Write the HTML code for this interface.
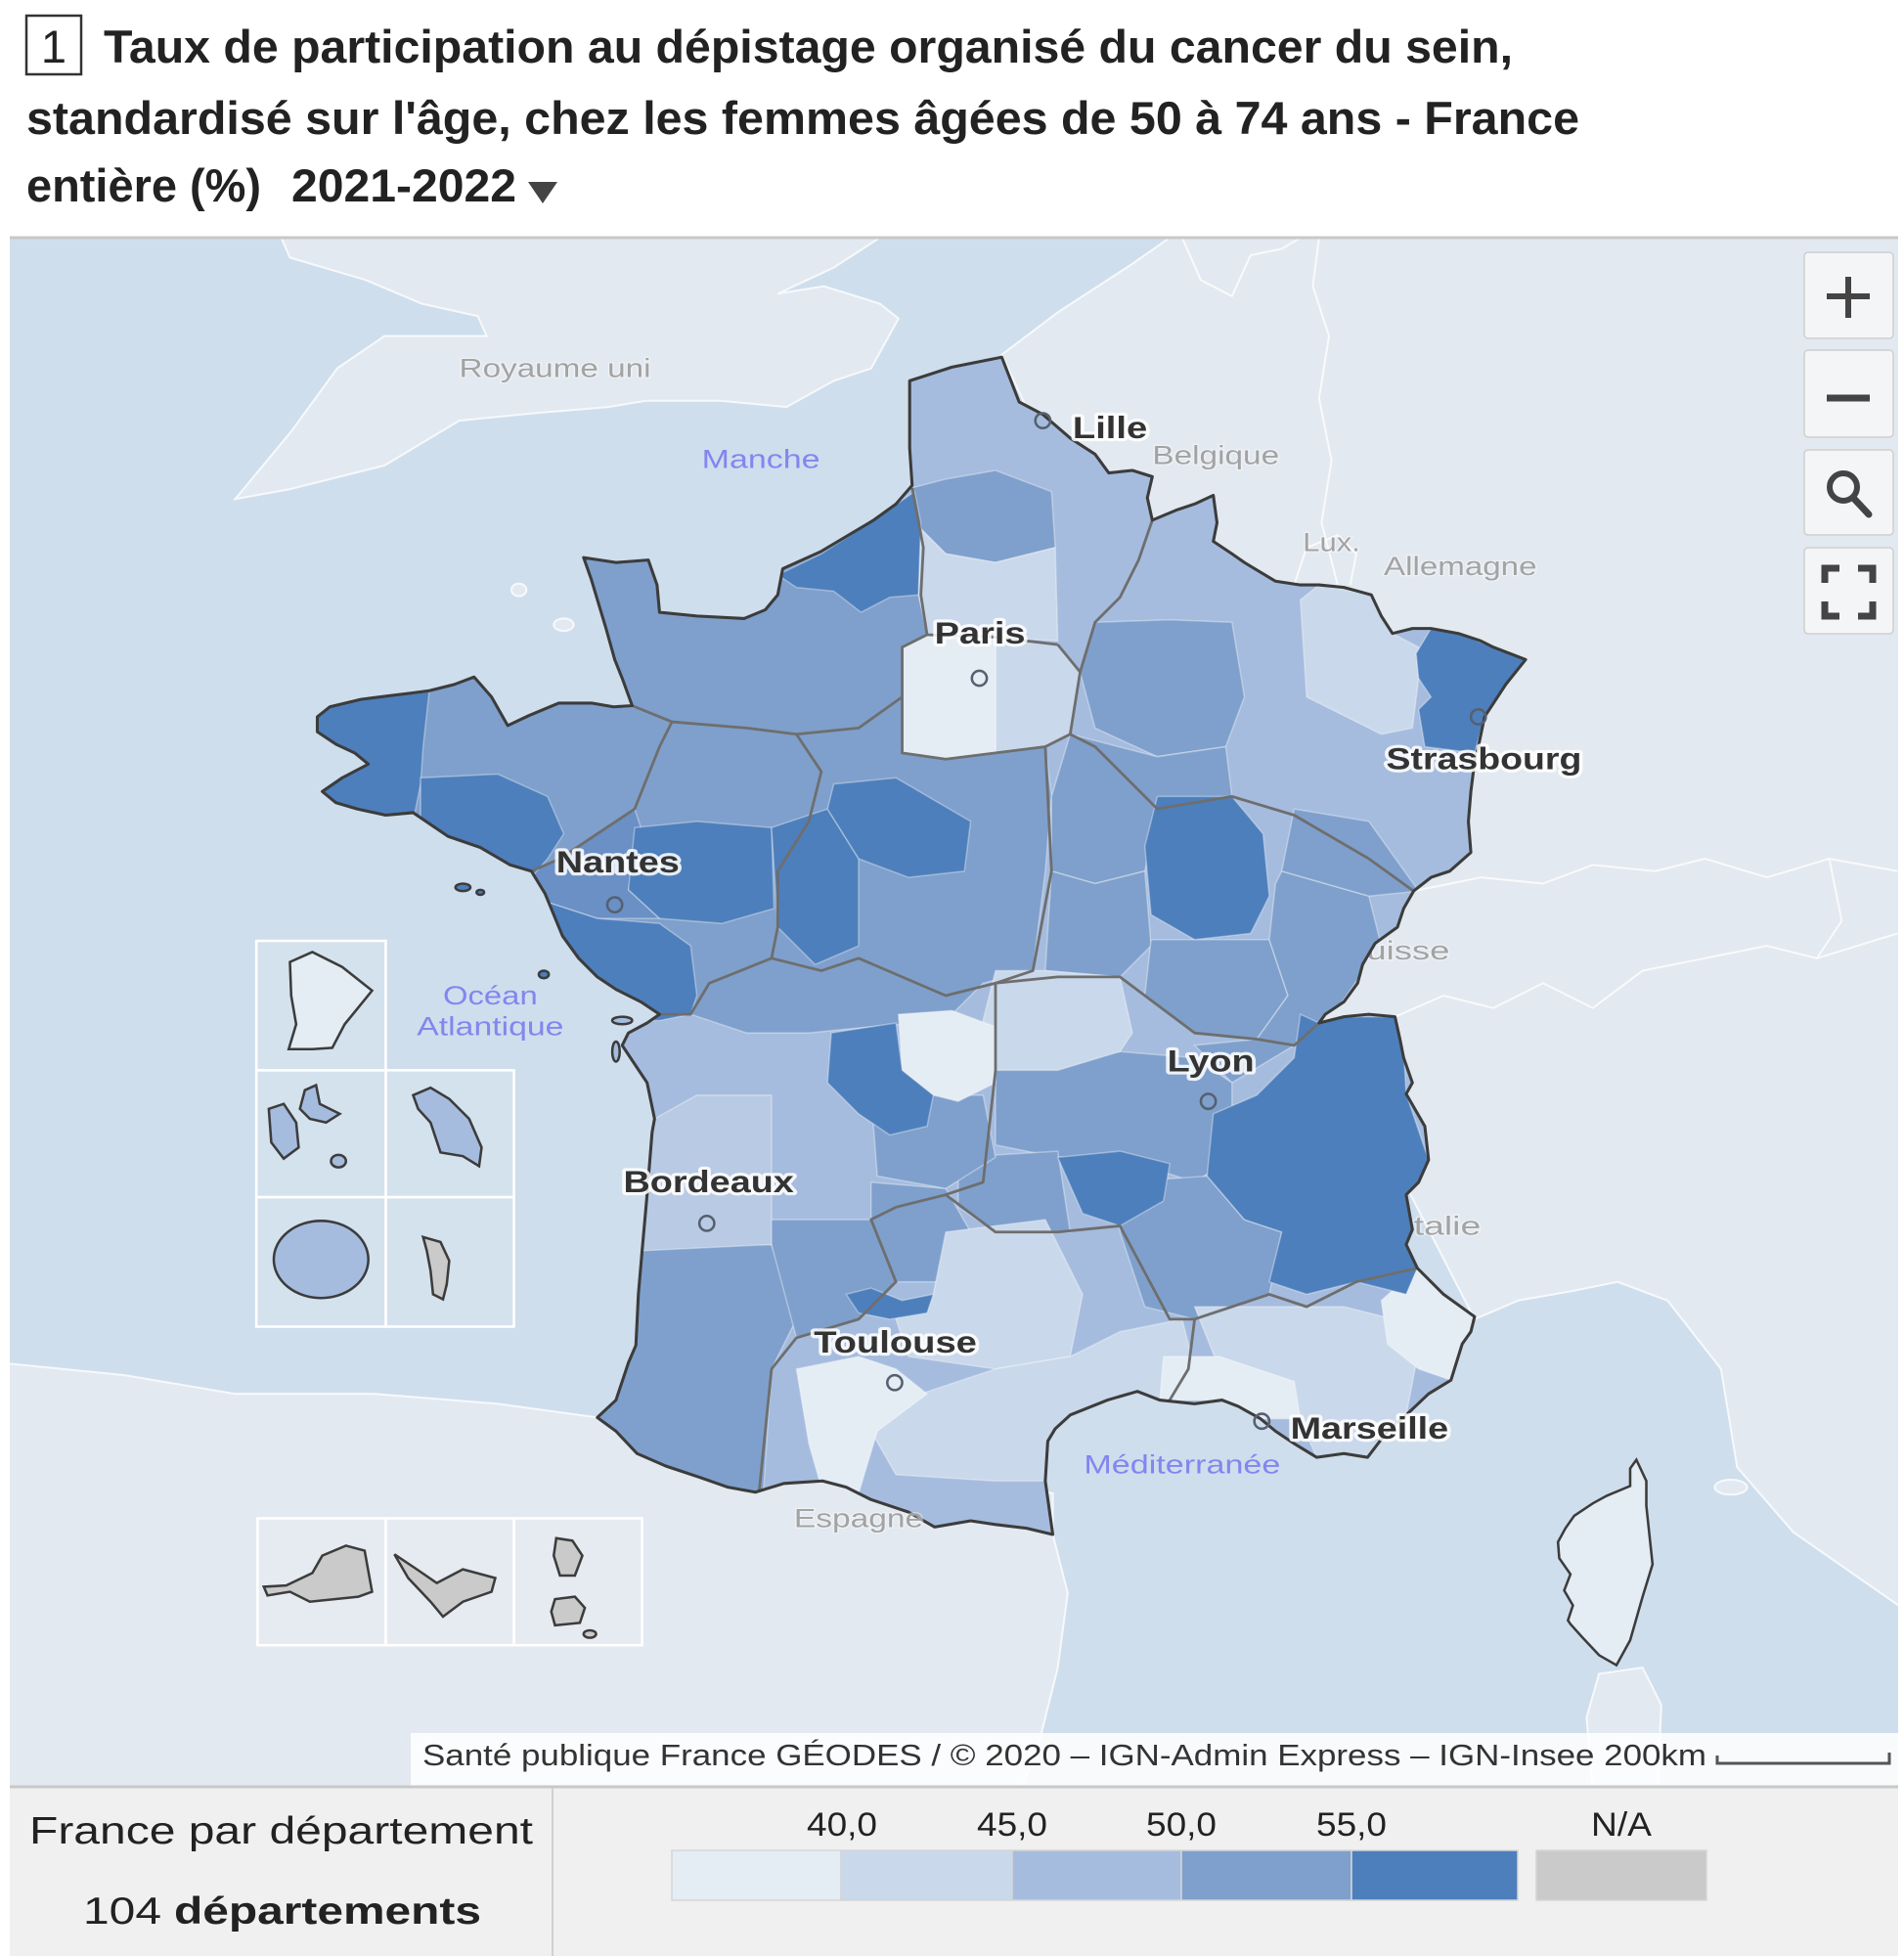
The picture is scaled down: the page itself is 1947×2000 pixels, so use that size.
<!DOCTYPE html>
<html><head><meta charset="utf-8"><style>
html,body{margin:0;padding:0;background:#fff;}
svg{display:block;}
text{font-family:"Liberation Sans",Arial,sans-serif;}
.city{font-weight:bold;font-size:25px;fill:#333;stroke:#fff;stroke-width:5;stroke-opacity:.85;paint-order:stroke;stroke-linejoin:round;}
.ctry{font-size:21px;fill:#a3a3a3;stroke:#fff;stroke-width:2;stroke-opacity:.4;paint-order:stroke;}
.sea{font-size:21px;fill:#8585ef;}
.p{stroke:#fff;stroke-opacity:.35;stroke-width:1.2;}
.c1{fill:#e4ecf4}.c2{fill:#c9d8ea}.c3{fill:#a5bcde}.c4{fill:#7fa0cc}.c5{fill:#4d7fbc}.na{fill:#cacaca}
.reg{fill:none;stroke:#6e6e6e;stroke-width:2.2;stroke-linejoin:round;}
.cb{fill:none;stroke:#fff;stroke-opacity:.75;stroke-width:1.6;stroke-linejoin:round;}
.land{fill:#e3e9f0;stroke:#f6f9fc;stroke-width:1.6;}
.isl{stroke:#3c3c3c;stroke-width:2;}
.box{fill:#fff;fill-opacity:.12;stroke:#fff;stroke-width:2;}
</style></head><body>
<svg width="1947" height="2000" viewBox="0 0 1947 2000" xmlns="http://www.w3.org/2000/svg">
<defs>
<path id="frp" d="M805,287 L812,305 L819,323 L838,333 L860,352 L880,365 L891,380 L910,378 L926,383 L922,400 L926,418 L945,410 L960,405 L975,398 L978,420 L975,435 L990,445 L1000,452 L1025,467 L1045,470 L1060,470 L1080,472 L1102,478 L1110,495 L1119,509 L1135,505 L1150,505 L1172,509 L1190,515 L1200,520 L1226,530 L1210,550 L1193,576 L1188,600 L1185,612 L1182,636 L1180,660 L1182,685 L1165,700 L1150,705 L1136,716 L1128,730 L1123,745 L1105,758 L1095,775 L1091,790 L1080,805 L1065,815 L1060,822 L1080,817 L1100,815 L1121,817 L1125,835 L1128,850 L1135,870 L1130,879 L1145,905 L1148,932 L1140,950 L1130,960 L1135,988 L1130,1000 L1139,1019 L1150,1030 L1160,1040 L1185,1058 L1182,1070 L1175,1080 L1166,1109 L1148,1120 L1130,1137 L1115,1150 L1099,1171 L1080,1168 L1058,1171 L1040,1160 L1025,1150 L1013,1140 L995,1130 L982,1125 L960,1128 L932,1125 L914,1118 L890,1125 L860,1137 L848,1148 L842,1158 L840,1190 L846,1233 L825,1228 L800,1225 L780,1222 L751,1227 L730,1215 L700,1205 L680,1195 L661,1190 L630,1192 L607,1199 L585,1195 L562,1187 L535,1178 L512,1168 L495,1150 L480,1139 L495,1125 L500,1110 L505,1095 L511,1081 L513,1040 L516,1005 L520,960 L524,910 L526,899 L520,870 L510,855 L500,840 L505,830 L520,822 L530,815 L515,805 L495,795 L480,785 L465,770 L452,752 L445,735 L438,718 L427,700 L410,695 L386,681 L360,672 L332,653 L310,655 L287,650 L270,645 L259,636 L275,625 L296,614 L285,605 L270,598 L255,588 L255,576 L265,568 L290,562 L313,559 L330,557 L345,555 L365,550 L381,544 L395,560 L408,583 L425,575 L449,565 L476,565 L493,568 L508,567 L500,545 L494,530 L487,505 L481,485 L475,465 L469,448 L495,452 L521,450 L528,470 L530,492 L560,495 L598,497 L615,490 L625,478 L629,457 L660,443 L702,418 L720,405 L733,390 L731,360 L731,330 L731,306 L765,295 Z"/>
<clipPath id="frclip"><use href="#frp"/></clipPath>
<clipPath id="mapclip"><rect x="10" y="243" width="1931" height="1583"/></clipPath>
</defs>

<rect x="0" y="0" width="1947" height="2000" fill="#fff"/>

<!-- Title -->
<rect x="27" y="16" width="56" height="60" fill="none" stroke="#333" stroke-width="2.5"/>
<text x="55" y="64" font-size="47" text-anchor="middle" fill="#222">1</text>
<text x="106" y="64" font-size="47" font-weight="bold" fill="#222" textLength="1441" lengthAdjust="spacingAndGlyphs">Taux de participation au dépistage organisé du cancer du sein,</text>
<text x="27" y="137" font-size="47" font-weight="bold" fill="#222" textLength="1588" lengthAdjust="spacingAndGlyphs">standardisé sur l'âge, chez les femmes âgées de 50 à 74 ans - France</text>
<text x="27" y="206" font-size="47" font-weight="bold" fill="#222" textLength="240" lengthAdjust="spacingAndGlyphs">entière (%)</text>
<text x="298" y="206" font-size="47" font-weight="bold" fill="#222" textLength="230" lengthAdjust="spacingAndGlyphs">2021-2022</text>
<polygon points="540,186 570,186 555,208" fill="#444"/>

<!-- Map -->
<g clip-path="url(#mapclip)">
<rect x="10" y="243" width="1931" height="1583" fill="#cfdeec"/>
<g transform="scale(1.2725)">
  <!-- land -->
  <path class="land" d="M226,191 L233,207 L294,225 L339,244 L384,254 L391,270 L309,270 L271,296 L233,348 L189,401 L233,393 L309,374 L369,338 L429,332 L489,327 L519,322 L579,322 L632,327 L670,306 L700,296 L722,256 L707,244 L662,230 L625,236 L670,215 L707,191 Z"/>
  <path class="land" d="M940,191 L1540,191 L1540,1300 L1441,1231 L1396,1179 L1383,1100 L1340,1045 L1300,1030 L1260,1038 L1220,1045 L1185,1060 L1000,700 L805,285 L850,251 L910,212 Z"/>
  <path class="land" d="M0,1095 L100,1105 L189,1120 L300,1120 L400,1128 L480,1139 L600,1150 L846,1200 L846,1233 L858,1280 L850,1340 L835,1400 L820,1440 L0,1440 Z"/>
  <path class="land" d="M1285,1345 L1320,1340 L1335,1370 L1332,1440 L1280,1440 L1275,1380 Z"/>
  <ellipse class="land" cx="1391" cy="1195" rx="13" ry="6"/>
  <ellipse class="land" cx="417" cy="474" rx="6" ry="5"/>
  <ellipse class="land" cx="453" cy="502" rx="8" ry="5"/>
  <!-- country borders -->
  <path class="cb" d="M1060,191 L1055,230 L1068,270 L1060,320 L1070,370 L1062,420 L1075,470"/>
  <path class="cb" d="M1040,470 L1050,440 L1075,430 L1090,445 L1085,470"/>
  <path class="cb" d="M950,191 L965,225 L990,238 L1005,205 L1030,200 L1045,191"/>
  <path class="cb" d="M1136,716 L1190,705 L1240,710 L1280,695 L1330,700 L1370,690 L1420,705 L1470,690 L1525,700"/>
  <path class="cb" d="M1121,817 L1160,800 L1200,810 L1240,790 L1280,810 L1320,780 L1370,770 L1420,760 L1460,770 L1525,750"/>
  <path class="cb" d="M1470,690 L1480,740 L1460,770"/>
  <!-- country / sea labels -->
  <text class="ctry" x="369" y="303" textLength="154" lengthAdjust="spacingAndGlyphs">Royaume uni</text>
  <text class="ctry" x="926" y="373" textLength="102" lengthAdjust="spacingAndGlyphs">Belgique</text>
  <text class="ctry" x="1047" y="443" textLength="46" lengthAdjust="spacingAndGlyphs">Lux.</text>
  <text class="ctry" x="1112" y="462" textLength="123" lengthAdjust="spacingAndGlyphs">Allemagne</text>
  <text class="ctry" x="1079" y="771" textLength="86" lengthAdjust="spacingAndGlyphs">Suisse</text>
  <text class="ctry" x="1128" y="992" textLength="62" lengthAdjust="spacingAndGlyphs">Italie</text>
  <text class="sea" x="564" y="376" textLength="95" lengthAdjust="spacingAndGlyphs">Manche</text>
  <text class="sea" x="356" y="807" textLength="76" lengthAdjust="spacingAndGlyphs">Océan</text>
  <text class="sea" x="335" y="832" textLength="118" lengthAdjust="spacingAndGlyphs">Atlantique</text>
  <text class="sea" x="871" y="1184" textLength="158" lengthAdjust="spacingAndGlyphs">Méditerranée</text>

  <!-- France -->
  <use href="#frp" class="c3"/>
  <g clip-path="url(#frclip)">
    <!-- c4 -->
    <polygon class="p c4" points="200,430 745,430 745,510 725,520 725,605 760,610 800,605 840,600 845,640 840,700 830,780 790,790 760,820 700,825 650,830 600,830 555,815 530,815 400,815 200,700"/>
    <polygon class="p c4" points="733,392 760,385 800,378 845,395 848,440 800,452 760,445 740,425"/>
    <polygon class="p c4" points="880,500 940,498 990,500 1000,560 985,600 930,608 880,585 868,540"/>
    <polygon class="p c4" points="860,590 930,608 985,600 990,640 930,650 920,700 880,710 845,700 845,640"/>
    <polygon class="p c4" points="845,700 880,710 920,700 925,760 900,785 840,780"/>
    <polygon class="p c4" points="925,755 1020,755 1035,800 1010,835 960,830 920,800"/>
    <polygon class="p c4" points="1030,700 1100,720 1110,760 1075,810 1060,822 1040,840 990,870 960,840 1010,835 1035,800 1020,755 1025,710"/>
    <polygon class="p c4" points="1040,650 1100,660 1140,716 1100,720 1030,700"/>
    <polygon class="p c4" points="800,860 900,845 960,850 990,870 990,930 960,950 900,930 850,930 800,920"/>
    <polygon class="p c4" points="770,930 850,925 860,990 800,990 770,970"/>
    <polygon class="p c4" points="700,950 760,955 780,990 760,1030 720,1030 700,980"/>
    <polygon class="p c4" points="700,880 790,880 800,930 760,955 705,945"/>
    <polygon class="p c4" points="400,1000 620,1000 640,1060 620,1100 610,1250 400,1250"/>
    <polygon class="p c4" points="600,980 700,980 720,1030 690,1060 640,1075 620,1000"/>
    <polygon class="p c4" points="900,950 970,945 1000,980 1030,990 1020,1040 960,1060 920,1050 900,990"/>
    <!-- c2 -->
    <polygon class="p c2" points="740,425 760,445 800,452 848,440 850,515 800,512 745,510 738,478"/>
    <polygon class="p c2" points="800,512 850,518 868,540 860,590 840,600 800,605"/>
    <polygon class="p c2" points="1045,482 1060,470 1102,478 1119,509 1140,520 1140,545 1135,585 1110,590 1080,575 1050,560"/>
    <polygon class="p c2" points="800,780 840,780 900,785 910,830 900,845 850,860 800,860 790,820"/>
    <polygon class="p" fill="#b8cae4" points="526,899 560,880 620,880 620,1000 516,1005 524,910"/>
    <polygon class="p c2" points="760,990 840,980 870,1040 860,1090 800,1100 730,1090 720,1060 750,1040"/>
    <polygon class="p c2" points="800,1100 860,1090 900,1070 950,1060 960,1100 940,1130 900,1130 860,1150 842,1160 840,1190 800,1190 720,1185 700,1150 740,1120"/>
    <polygon class="p c2" points="960,1050 1030,1050 1080,1050 1120,1060 1140,1085 1130,1137 1099,1171 1058,1171 1040,1130 980,1100"/>
    <!-- c1 -->
    <polygon class="p c1" points="725,520 745,510 800,512 800,605 760,610 725,605"/>
    <polygon class="p c1" points="722,815 765,812 800,825 800,870 770,885 750,880 725,860"/>
    <polygon class="p c1" points="640,1100 690,1090 720,1100 745,1120 705,1150 690,1200 660,1195 650,1160"/>
    <polygon class="p c1" points="935,1090 980,1090 1040,1110 1045,1140 1013,1140 982,1125 932,1125"/>
    <polygon class="p c1" points="1110,1045 1139,1019 1160,1040 1185,1058 1180,1075 1166,1109 1140,1100 1115,1080"/>
    <!-- c5 and intermediate -->
    <polygon class="p" fill="#6a90c5" points="427,700 450,690 480,670 510,650 515,665 505,715 530,738 480,738 440,725"/>
    <polygon class="p c5" points="625,462 660,445 702,418 735,395 740,420 738,478 715,480 692,492 670,475 640,472"/>
    <polygon class="p c5" points="200,560 313,559 345,555 340,600 338,630 332,660 200,660"/>
    <polygon class="p c5" points="338,625 400,622 440,640 453,670 440,690 427,705 386,690 338,665"/>
    <polygon class="p c5" points="510,665 560,660 620,665 622,730 580,742 530,738 505,715"/>
    <polygon class="p c5" points="440,725 480,738 530,742 555,760 560,800 555,815 530,820 400,820 400,730"/>
    <polygon class="p c5" points="620,665 665,650 690,690 690,760 655,775 625,745"/>
    <polygon class="p c5" points="670,630 720,625 780,660 775,700 730,705 690,690 665,650"/>
    <polygon class="p c5" points="930,640 990,640 1015,670 1020,720 1005,750 960,755 925,735 920,680"/>
    <polygon class="p c5" points="668,830 720,822 725,860 750,880 745,905 715,912 690,895 665,870"/>
    <polygon class="p c5" points="850,930 900,925 940,935 935,965 900,985 870,975"/>
    <polygon class="p c5" points="1045,815 1060,822 1080,817 1121,817 1128,845 1130,879 1148,932 1140,960 1135,988 1139,1019 1130,1040 1090,1030 1050,1040 1020,1030 1030,990 1000,980 970,945 975,895 1010,880 1040,850"/>
    <polygon class="p c5" points="1138,525 1150,505 1172,509 1200,520 1230,525 1193,576 1185,605 1145,600 1140,570 1150,560 1140,545"/>
    <polygon class="p c5" points="680,1040 700,1035 725,1045 750,1040 745,1055 715,1060 690,1055"/>
    <!-- region borders -->
    <path class="reg" d="M733,392 L742,440 L740,478 L745,510 L800,512 L850,518"/>
    <path class="reg" d="M926,418 L915,450 L900,480 L880,500 L868,540 L860,590 L840,600"/>
    <path class="reg" d="M850,518 L868,540"/>
    <path class="reg" d="M745,510 L725,520 L725,605 L760,610 L800,605 L840,600"/>
    <path class="reg" d="M860,590 L880,600 L930,650 L990,640 L1040,655 L1100,690 L1136,716"/>
    <path class="reg" d="M508,567 L540,580 L600,585 L640,590 L690,585 L725,560"/>
    <path class="reg" d="M427,700 L450,690 L480,670 L510,650 L530,600 L540,580"/>
    <path class="reg" d="M640,590 L660,620 L650,660 L625,700 L625,745 L620,770"/>
    <path class="reg" d="M530,815 L555,815 L570,790 L620,770 L660,780 L690,770 L760,800 L800,790"/>
    <path class="reg" d="M840,600 L845,700 L830,780 L800,790 L800,860 L790,950 L760,960"/>
    <path class="reg" d="M800,790 L850,785 L900,785 L960,830 L1010,835 L1040,840 L1060,822"/>
    <path class="reg" d="M760,960 L720,970 L700,980 L720,1030 L690,1060 L640,1075 L620,1100 L610,1199"/>
    <path class="reg" d="M760,960 L800,990 L850,990 L900,985 L940,1060 L960,1060 L1020,1040 L1050,1050 L1090,1030 L1139,1019"/>
    <path class="reg" d="M960,1060 L955,1100 L940,1125"/>
  </g>
  <use href="#frp" fill="none" stroke="#3c3c3c" stroke-width="2.4" stroke-linejoin="round"/>
  <!-- small Atlantic islands -->
  <ellipse cx="372" cy="713" rx="6" ry="3" class="c5 isl"/>
  <ellipse cx="386" cy="717" rx="3" ry="2" class="c5 isl"/>
  <ellipse cx="437" cy="783" rx="4" ry="3" class="c5 isl"/>
  <ellipse cx="500" cy="820" rx="8" ry="3" class="c3 isl"/>
  <ellipse cx="495" cy="845" rx="3" ry="8" class="c3 isl"/>

  <!-- Corsica -->
  <path class="c1 isl" d="M1315,1173 L1323,1190 L1323,1210 L1328,1257 L1320,1283 L1310,1318 L1299,1338 L1285,1330 L1271,1315 L1262,1305 L1260,1302 L1264,1290 L1257,1278 L1262,1265 L1253,1252 L1252,1239 L1258,1228 L1265,1218 L1280,1208 L1291,1202 L1310,1194 L1310,1180 Z"/>

  <!-- Insets -->
  <rect class="box" x="206" y="756" width="104" height="104"/>
  <rect class="box" x="206" y="860" width="104" height="102"/>
  <rect class="box" x="310" y="860" width="103" height="102"/>
  <rect class="box" x="206" y="962" width="104" height="104"/>
  <rect class="box" x="310" y="962" width="103" height="104"/>
  <rect class="box" x="207" y="1220" width="103" height="102"/>
  <rect class="box" x="310" y="1220" width="103" height="102"/>
  <rect class="box" x="413" y="1220" width="103" height="102"/>
  <path class="c1 isl" d="M233,773 L251,765 L275,777 L299,796 L277,823 L267,842 L251,843 L232,843 L238,823 L234,800 Z"/>
  <path class="c3 isl" d="M216,891 L228,887 L238,902 L240,922 L228,931 L218,918 Z"/>
  <path class="c3 isl" d="M241,891 L245,876 L254,872 L257,887 L273,895 L262,902 L249,899 Z"/>
  <ellipse class="c3 isl" cx="272" cy="933" rx="6" ry="5"/>
  <path class="c3 isl" d="M332,880 L346,874 L361,883 L377,899 L387,922 L385,937 L372,929 L354,926 L346,902 L336,891 Z"/>
  <ellipse class="c3 isl" cx="258" cy="1012" rx="38" ry="31"/>
  <path class="na isl" d="M340,994 L354,998 L361,1013 L359,1032 L356,1044 L348,1040 L346,1021 L343,1005 Z"/>
  <path class="na isl" d="M212,1275 L230,1274 L251,1264 L259,1250 L278,1242 L293,1246 L299,1279 L288,1283 L249,1287 L233,1279 L215,1282 Z"/>
  <path class="na isl" d="M317,1249 L335,1261 L351,1272 L372,1261 L398,1268 L395,1279 L372,1287 L356,1299 L346,1287 L328,1268 Z"/>
  <path class="na isl" d="M447,1236 L460,1238 L468,1250 L462,1266 L450,1266 L445,1250 Z"/>
  <path class="na isl" d="M446,1285 L462,1283 L470,1292 L466,1304 L446,1306 L443,1295 Z"/>
  <ellipse class="na isl" cx="474" cy="1313" rx="5" ry="3"/>

  <!-- city circles -->
  <g fill="none" stroke="#556070" stroke-width="2">
    <circle cx="838" cy="338" r="6"/><circle cx="787" cy="545" r="6"/>
    <circle cx="1188" cy="576" r="6"/><circle cx="494" cy="727" r="6"/>
    <circle cx="971" cy="885" r="6"/><circle cx="568" cy="983" r="6"/>
    <circle cx="719" cy="1111" r="6"/><circle cx="1014" cy="1142" r="6"/>
  </g>
  <text class="ctry" x="638" y="1227" textLength="104" lengthAdjust="spacingAndGlyphs">Espagne</text>
  <text class="city" x="862" y="352" textLength="60" lengthAdjust="spacingAndGlyphs">Lille</text>
  <text class="city" x="751" y="517" textLength="73" lengthAdjust="spacingAndGlyphs">Paris</text>
  <text class="city" x="1114" y="618" textLength="157" lengthAdjust="spacingAndGlyphs">Strasbourg</text>
  <text class="city" x="447" y="701" textLength="99" lengthAdjust="spacingAndGlyphs">Nantes</text>
  <text class="city" x="938" y="861" textLength="70" lengthAdjust="spacingAndGlyphs">Lyon</text>
  <text class="city" x="501" y="958" textLength="137" lengthAdjust="spacingAndGlyphs">Bordeaux</text>
  <text class="city" x="654" y="1087" textLength="131" lengthAdjust="spacingAndGlyphs">Toulouse</text>
  <text class="city" x="1037" y="1156" textLength="127" lengthAdjust="spacingAndGlyphs">Marseille</text>
</g>

<!-- attribution -->
<rect x="420" y="1772" width="1521" height="54" fill="#fff" fill-opacity=".85"/>
<text x="432" y="1805" font-size="31" fill="#333" textLength="1313" lengthAdjust="spacingAndGlyphs">Santé publique France GÉODES / © 2020 – IGN-Admin Express – IGN-Insee 200km</text>
<path d="M1756,1795 V1803 H1932 V1792" fill="none" stroke="#555" stroke-width="3"/>

<!-- controls -->
<g fill="#f4f5f7" stroke="#cfcfcf" stroke-width="1.5">
  <rect x="1845" y="258" width="91" height="88" rx="4"/>
  <rect x="1845" y="358" width="91" height="89" rx="4"/>
  <rect x="1845" y="460" width="91" height="87" rx="4"/>
  <rect x="1845" y="560" width="91" height="88" rx="4"/>
</g>
<g stroke="#444" fill="none">
  <path d="M1868,303 H1912 M1890,283 V325" stroke-width="6"/>
  <path d="M1868,407 H1912" stroke-width="7"/>
  <circle cx="1885" cy="498" r="14" stroke-width="6"/>
  <path d="M1896,510 L1911,526" stroke-width="7" stroke-linecap="round"/>
  <path d="M1866,596 V581 H1881 M1900,581 H1915 V596 M1915,615 V630 H1900 M1881,630 H1866 V615" stroke-width="7"/>
</g>
</g>
<line x1="10" y1="243" x2="1941" y2="243" stroke="#c8c8c8" stroke-width="3"/>

<!-- legend -->
<rect x="10" y="1826" width="1931" height="174" fill="#f0f0f0"/>
<line x1="10" y1="1827" x2="1941" y2="1827" stroke="#c8c8c8" stroke-width="3"/>
<line x1="565" y1="1828" x2="565" y2="2000" stroke="#d0d0d0" stroke-width="2"/>
<text x="30" y="1885" font-size="39" fill="#222" textLength="515" lengthAdjust="spacingAndGlyphs">France par département</text>
<text x="85" y="1967" font-size="39" fill="#222" textLength="80" lengthAdjust="spacingAndGlyphs">104</text>
<text x="178" y="1967" font-size="39" font-weight="bold" fill="#222" textLength="314" lengthAdjust="spacingAndGlyphs">départements</text>
<g stroke="#d6d6d6" stroke-width="1.5">
  <rect x="687" y="1892" width="173" height="51" class="c1"/>
  <rect x="860" y="1892" width="175" height="51" class="c2"/>
  <rect x="1035" y="1892" width="173" height="51" class="c3"/>
  <rect x="1208" y="1892" width="174" height="51" class="c4"/>
  <rect x="1382" y="1892" width="170" height="51" class="c5"/>
  <rect x="1571" y="1892" width="174" height="51" class="na"/>
</g>
<g font-size="34" fill="#222" text-anchor="middle">
  <text x="861" y="1877" textLength="72" lengthAdjust="spacingAndGlyphs">40,0</text>
  <text x="1035" y="1877" textLength="72" lengthAdjust="spacingAndGlyphs">45,0</text>
  <text x="1208" y="1877" textLength="72" lengthAdjust="spacingAndGlyphs">50,0</text>
  <text x="1382" y="1877" textLength="72" lengthAdjust="spacingAndGlyphs">55,0</text>
  <text x="1658" y="1877" textLength="62" lengthAdjust="spacingAndGlyphs">N/A</text>
</g>
</svg>
</body></html>
